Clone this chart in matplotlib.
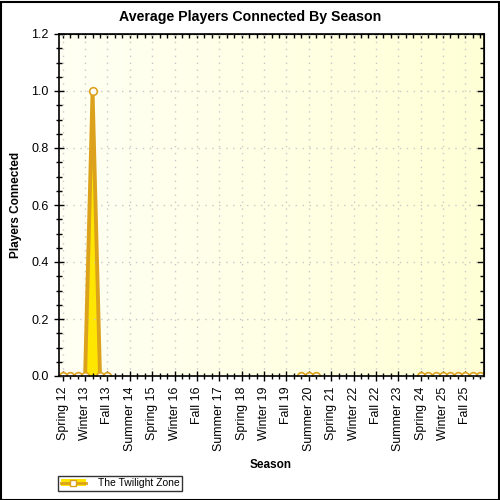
import numpy as np
import matplotlib
matplotlib.use("Agg")
import matplotlib.pyplot as plt
from matplotlib.patches import Rectangle, Patch
from matplotlib.lines import Line2D
from matplotlib.ticker import MultipleLocator, FixedLocator

plt.rcParams['font.family'] = ['Liberation Sans', 'DejaVu Sans']

# season axis: Spring 12 ... Spring 26
season_names = ['Spring', 'Summer', 'Fall', 'Winter']
first_year = 12
n_seasons = 57

# seasons that have recorded data and their averages
recorded = ['Spring 12', 'Summer 12', 'Fall 12', 'Winter 13', 'Spring 13', 'Summer 13', 'Fall 13',
            'Spring 20', 'Summer 20', 'Fall 20',
            'Spring 24', 'Summer 24', 'Fall 24', 'Winter 25', 'Spring 25', 'Summer 25', 'Fall 25',
            'Winter 26', 'Spring 26']
players = [0.0, 0.0, 0.0, 0.0, 1.0, 0.0, 0.0,
           0.0, 0.0, 0.0,
           0.0, 0.0, 0.0, 0.0, 0.0, 0.0, 0.0,
           0.0, 0.0]
series_name = 'The Twilight Zone'

labels = []
for i in range(n_seasons):
    s = i % 4
    yr = first_year + i // 4 + (1 if s == 3 else 0)
    labels.append(f'{season_names[s]} {yr}')

x = np.arange(n_seasons)
y = np.full(n_seasons, np.nan)
for name, v in zip(recorded, players):
    y[labels.index(name)] = v

line_col = '#DCA21C'
fill_col = '#FFE600'

fig = plt.figure(figsize=(5, 5), dpi=100)
ax = fig.add_axes([59/500, 1 - 376/500, (484 - 59)/500, (376 - 34)/500])

# light yellow gradient background
grad = np.linspace(0, 1, 256).reshape(1, -1)
c0 = np.array([1.0, 1.0, 0.955])
c1 = np.array([1.0, 1.0, 0.84])
img = c0[None, None, :] * (1 - grad[..., None]) + c1[None, None, :] * grad[..., None]
ax.imshow(img, extent=(-0.5, n_seasons - 0.5, 0, 1.2), aspect='auto', zorder=0)

ax.set_xlim(-0.5, n_seasons - 0.5)
ax.set_ylim(0, 1.2)

ax.fill_between(x, 0, y, color=fill_col, lw=0, zorder=2)
ax.plot(x, y, color=line_col, lw=2.8, zorder=3, solid_joinstyle='miter')
ax.plot(x, y, ls='none', marker='o', ms=5.5, mfc='white', mec=line_col, mew=1.2, zorder=4)

major = list(range(0, n_seasons, 3))
ax.xaxis.set_major_locator(FixedLocator(major))
ax.set_xticklabels([labels[i] for i in major], rotation=90, fontsize=8.9)
ax.xaxis.set_minor_locator(FixedLocator(list(range(n_seasons))))
ax.yaxis.set_major_locator(MultipleLocator(0.2))
ax.yaxis.set_minor_locator(MultipleLocator(0.05))
ax.set_yticklabels([f'{v:.1f}' for v in ax.get_yticks()], fontsize=9)

ax.tick_params(which='major', direction='inout', length=7, width=1, pad=4)
ax.tick_params(which='minor', direction='inout', length=4, width=1)

# inward-only ticks on top and right edges
top = ax.secondary_xaxis('top')
top.xaxis.set_major_locator(FixedLocator(major))
top.xaxis.set_minor_locator(FixedLocator(list(range(n_seasons))))
top.tick_params(which='both', direction='in', length=3, width=1, labeltop=False)
right = ax.secondary_yaxis('right')
right.yaxis.set_major_locator(MultipleLocator(0.2))
right.yaxis.set_minor_locator(MultipleLocator(0.05))
right.tick_params(which='major', direction='in', length=5, width=1, labelright=False)
right.tick_params(which='minor', direction='in', length=3, width=1)

ax.grid(True, which='major', color='#c8c8c8', ls=(0, (1, 4)), lw=1)
ax.set_axisbelow(False)
for sp in ax.spines.values():
    sp.set_linewidth(1.2)
    sp.set_zorder(5)

fig.text(0.5, 1 - 17/500, 'Average Players Connected By Season', ha='center', va='center',
         fontsize=10.2, fontweight='bold')
fig.text(16/500, 1 - 205/500, 'Players Connected', rotation=90, ha='center', va='center',
         fontsize=8.5, fontweight='bold')
fig.text(271/500, 1 - 465/500, 'Season', ha='center', va='center', fontsize=8.5, fontweight='bold')

h_fill = Patch(facecolor=fill_col, edgecolor='none')
h_line = Line2D([], [], color=line_col, lw=2, marker='s', ms=5, mfc='white', mec=line_col)
leg = fig.legend([(h_fill, h_line)], [series_name], loc='lower left',
                 bbox_to_anchor=(58/500, 9/500), fontsize=7.5, frameon=True, fancybox=False,
                 edgecolor='black', borderpad=0.25, handlelength=2.4, handleheight=0.6,
                 handletextpad=1.2, borderaxespad=0)
leg.get_frame().set_linewidth(1)

fig.patches.append(Rectangle((0.001, 0.001), 0.996, 0.996, transform=fig.transFigure,
                             fill=False, edgecolor='black', lw=1.5))

fig.savefig('out.png', dpi=100)
